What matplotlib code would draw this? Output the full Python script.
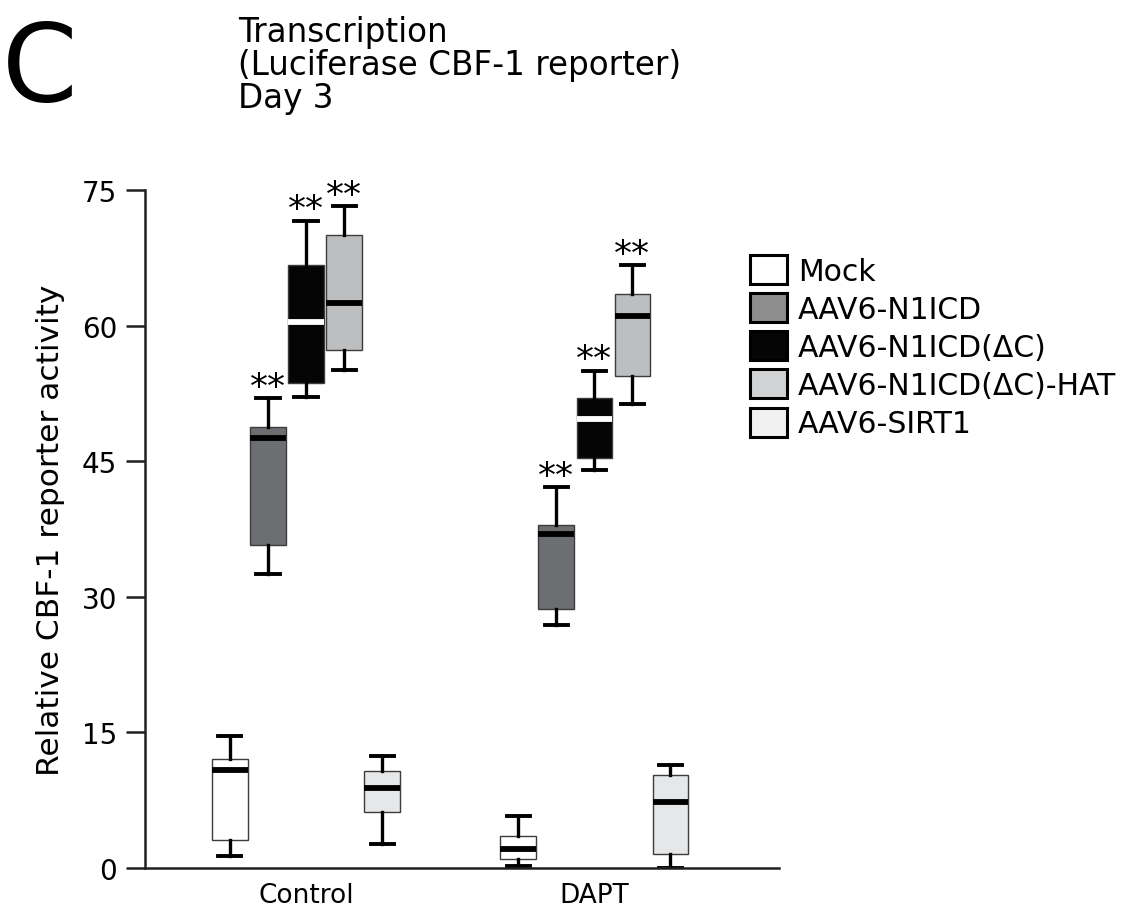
import numpy as np
import matplotlib
matplotlib.use("Agg")
import matplotlib.pyplot as plt
from matplotlib.patches import Patch

plt.rcParams['font.family'] = ['DejaVu Sans']

groups = ["Control", "DAPT"]
series = ["Mock", "AAV6-N1ICD", "AAV6-N1ICD(\u0394C)", "AAV6-N1ICD(\u0394C)-HAT", "AAV6-SIRT1"]

# box stats, per series: [Control, DAPT]
whislo = [[1.3, 0.2], [32.5, 26.9], [52.1, 44.0], [55.1, 51.3], [2.6, 0.0]]
q1 = [[3.1, 1.0], [35.7, 28.6], [53.7, 45.3], [57.3, 54.4], [6.2, 1.5]]
med = [[10.8, 2.1], [47.6, 37.0], [60.4, 49.7], [62.5, 61.1], [8.9, 7.3]]
q3 = [[12.1, 3.5], [48.8, 37.9], [66.7, 52.0], [70.0, 63.5], [10.7, 10.3]]
whishi = [[14.6, 5.7], [52.0, 42.1], [71.6, 55.0], [73.2, 66.7], [12.4, 11.4]]
signif = [[False, False], [True, True], [True, True], [True, True], [False, False]]

box_colors = ["#ffffff", "#6d6e71", "#050505", "#bcbec0", "#e6e7e8"]
legend_colors = ["#ffffff", "#8d8d8e", "#050505", "#d1d2d4", "#f1f1f2"]
median_colors = ["#000000", "#000000", "#ffffff", "#000000", "#000000"]

fig = plt.figure(figsize=(11.36, 9.12), dpi=100)
ax = fig.add_axes([145 / 1136, 1 - 869 / 912, (779 - 145) / 1136, (869 - 191) / 912])

step = 0.132
width = 0.122
for i, name in enumerate(series):
    stats = []
    pos = []
    for g in range(len(groups)):
        stats.append(dict(med=med[i][g], q1=q1[i][g], q3=q3[i][g],
                          whislo=whislo[i][g], whishi=whishi[i][g], fliers=[]))
        pos.append(g + (i - 2) * step)
    ax.bxp(stats, positions=pos, widths=width, capwidths=0.08, patch_artist=True,
           showfliers=False,
           boxprops=dict(facecolor=box_colors[i], edgecolor="#3c3c3c", linewidth=1.0),
           medianprops=dict(color=median_colors[i], linewidth=4.2, solid_capstyle="butt"),
           whiskerprops=dict(color="black", linewidth=2.4),
           capprops=dict(color="black", linewidth=2.8))
    for g in range(len(groups)):
        if signif[i][g]:
            ax.annotate("**", xy=(pos[g], whishi[i][g]), xytext=(0, 1),
                        textcoords="offset points", ha="center", va="baseline",
                        fontsize=26)

ax.set_xlim(-0.559, 1.642)
ax.set_ylim(0, 75)
ax.set_yticks([0, 15, 30, 45, 60, 75])
ax.set_xticks([0, 1])
ax.set_xticklabels(groups)
ax.tick_params(axis="x", length=0, labelsize=19, pad=10)
ax.tick_params(axis="y", length=14, width=1.8, labelsize=20, pad=6, color="#231f20")
for s in ["top", "right"]:
    ax.spines[s].set_visible(False)
for s in ["left", "bottom"]:
    ax.spines[s].set_linewidth(1.8)
    ax.spines[s].set_color("#231f20")
ax.set_ylabel("Relative CBF-1 reporter activity", fontsize=22.5, labelpad=12)

handles = [Patch(facecolor=c, edgecolor="black", linewidth=2.2) for c in legend_colors]
fig.legend(handles, series, loc="upper left", bbox_to_anchor=(750 / 1136, 1 - 256 / 912),
           frameon=False, fontsize=21.5, handlelength=1.25, handleheight=1.12,
           handletextpad=0.35, labelspacing=0.25, borderpad=0, borderaxespad=0)

fig.text(2 / 1136, 1 - 101 / 912, "C", fontsize=78, va="baseline", ha="left")
title_lines = ["Transcription", "(Luciferase CBF-1 reporter)", "Day 3"]
for k, line in enumerate(title_lines):
    fig.text(238 / 1136, 1 - (42 + 33 * k) / 912, line, fontsize=23.5, va="baseline", ha="left")

fig.savefig("out.png", dpi=100)
